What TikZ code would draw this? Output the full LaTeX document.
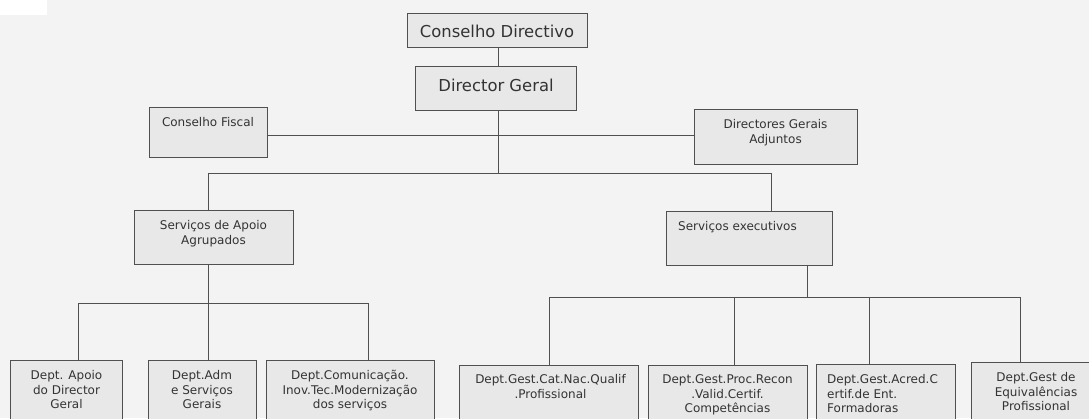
\documentclass[tikz,border=0pt]{standalone}
\usepackage{fontspec}
\setmainfont{DejaVu Sans}
\definecolor{bg}{HTML}{F3F3F3}
\definecolor{boxfill}{HTML}{E8E8E8}
\definecolor{edge}{HTML}{505050}
\definecolor{ink}{HTML}{333333}
\begin{document}
\begin{tikzpicture}[x=1pt,y=-1pt,
  box/.style={draw=edge, fill=boxfill, line width=1pt, inner sep=0pt, rectangle},
  lbl/.style={text=ink, inner sep=0pt, font=\fontsize{12}{14.5}\selectfont, align=center},
  lbll/.style={text=ink, inner sep=0pt, font=\fontsize{12}{14.5}\selectfont, align=left},
  big/.style={text=ink, inner sep=0pt, font=\fontsize{16.4}{19}\selectfont},
  conn/.style={draw=edge, line width=1pt}]
\useasboundingbox (0,0) rectangle (1089,418);
\clip (0,0) rectangle (1089,418);
\fill[bg] (0,0) rectangle (1089,418);
\fill[white] (0,0) rectangle (47,15);

% boxes
\node[box, minimum width=180pt, minimum height=34pt] (cd) at (497,30) {};
\node[box, minimum width=161pt, minimum height=44pt] (dg) at (495.5,88) {};
\node[box, minimum width=118pt, minimum height=50pt] (cf) at (208,132) {};
\node[box, minimum width=163pt, minimum height=55pt] (dga) at (775.5,136.5) {};
\node[box, minimum width=159pt, minimum height=54pt] (saa) at (213.5,237) {};
\node[box, minimum width=166pt, minimum height=54pt] (se) at (749,238) {};
\node[box, minimum width=112pt, minimum height=65pt] (b1) at (66,392.5) {};
\node[box, minimum width=108pt, minimum height=65pt] (b2) at (202,392.5) {};
\node[box, minimum width=168pt, minimum height=65pt] (b3) at (350,392.5) {};
\node[box, minimum width=179pt, minimum height=60pt] (b4) at (548.5,395) {};
\node[box, minimum width=159pt, minimum height=60pt] (b5) at (727.5,395) {};
\node[box, minimum width=139pt, minimum height=61pt] (b6) at (885.5,394.5) {};
\node[box, minimum width=130pt, minimum height=63pt] (b7) at (1036,393.5) {};

% texts
\node[big] (cdt) at (497,31.5) {Conselho Directivo};
\node[big] (dgt) at (496,85.5) {Director Geral};
\node[lbl] (cft) at (208,122) {Conselho Fiscal};
\node[lbl, anchor=north] (dgat) at (775.5,119.4) {Directores Gerais\\Adjuntos};
\node[lbl, anchor=north] (saat) at (213.5,220.4) {Serviços de Apoio\\Agrupados};
\node[lbll, anchor=north west] (set) at (678,221.4) {Serviços executivos};
\node[lbl, anchor=north] (b1t) at (66.5,370.4) {Dept. Apoio\\do Director\\Geral};
\node[lbl, anchor=north] (b2t) at (202,370.4) {Dept.Adm\\e Serviços\\Gerais};
\node[lbl, anchor=north] (b3t) at (350,370.4) {Dept.Comunicação.\\Inov.Tec.Modernização\\dos serviços};
\node[lbl, anchor=north] (b4t) at (550.5,374.4) {Dept.Gest.Cat.Nac.Qualif\\.Profissional};
\node[lbl, anchor=north] (b5t) at (727.5,374.4) {Dept.Gest.Proc.Recon\\.Valid.Certif.\\Competências};
\node[lbll, anchor=north west] (b6t) at (827,374.4) {Dept.Gest.Acred.C\\ertif.de Ent.\\Formadoras};
\node[lbl, anchor=north] (b7t) at (1036,372.4) {Dept.Gest de\\Equivalências\\Profissional};

% junction coordinates
\coordinate (jf) at (498,135);
\coordinate (jt) at (498,173);
\coordinate (lt) at (208,173);
\coordinate (rt) at (771,173);
\coordinate (lb) at (208,303);
\coordinate (l1) at (78,303);
\coordinate (l3) at (368,303);
\coordinate (rb) at (807,297);
\coordinate (r1) at (549,297);
\coordinate (r2) at (734,297);
\coordinate (r3) at (869,297);
\coordinate (r4) at (1020,297);

% connectors
\draw[conn] (cd.south -| jf) -- (dg.north -| jf);
\draw[conn] (dg.south -| jf) -- (jt);
\draw[conn] (cf.east |- jf) -- (dga.west |- jf);
\draw[conn] (lt) -- (rt);
\draw[conn] (lt) -- (lt |- saa.north);
\draw[conn] (rt) -- (rt |- se.north);
\draw[conn] (saa.south -| lb) -- (lb);
\draw[conn] (l1) -- (l3);
\draw[conn] (l1) -- (l1 |- b1.north);
\draw[conn] (lb) -- (lb |- b2.north);
\draw[conn] (l3) -- (l3 |- b3.north);
\draw[conn] (se.south -| rb) -- (rb);
\draw[conn] (r1) -- (r4);
\draw[conn] (r1) -- (r1 |- b4.north);
\draw[conn] (r2) -- (r2 |- b5.north);
\draw[conn] (r3) -- (r3 |- b6.north);
\draw[conn] (r4) -- (r4 |- b7.north);
\end{tikzpicture}
\end{document}
